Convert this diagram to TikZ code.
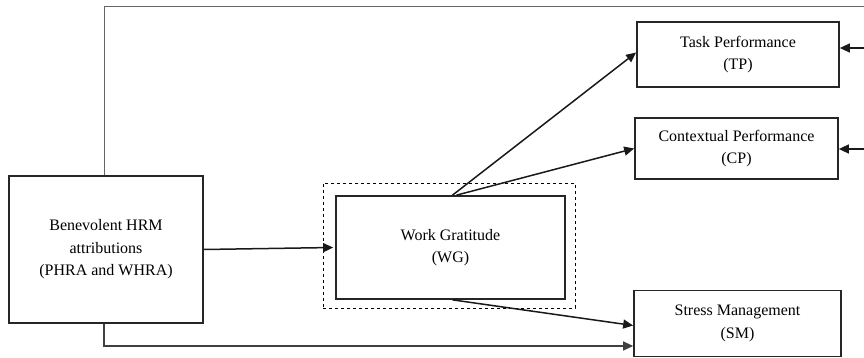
\documentclass[tikz,border=0pt]{standalone}
\usepackage{fontspec}
\setmainfont{Liberation Serif}
\usetikzlibrary{arrows.meta}
\begin{document}
\begin{tikzpicture}[x=1pt,y=-1pt,
  box/.style={draw=black!85,line width=1.7pt,rectangle,align=center,inner sep=0pt,
    font=\fontsize{16}{22.5}\selectfont},
  conn/.style={line width=1.5pt,draw=black!90,-{Triangle[length=10pt,width=9pt]}},
  plain/.style={line width=1pt,draw=black!60}]
\useasboundingbox (0,0) rectangle (864,358);
\node[box,minimum width=194pt,minimum height=147pt] (hrm) at (106,249.5)
  {Benevolent HRM\\attributions\\(PHRA and WHRA)};
\node[draw,dashed,line width=0.9pt,minimum width=252pt,minimum height=125pt,inner sep=0pt] (wgo) at (449,245.5) {};
\node[box,minimum width=229pt,minimum height=103pt] (wg) at (450.5,247.5) {Work Gratitude\\(WG)};
\node[box,minimum width=202pt,minimum height=65pt] (tp) at (738,54.5) {Task Performance\\(TP)};
\node[box,minimum width=203pt,minimum height=61pt] (cp) at (736.5,148.5) {Contextual Performance\\(CP)};
\node[box,minimum width=207pt,minimum height=66pt] (sm) at (737.5,323.5) {Stress Management\\(SM)};
\coordinate (topr) at (864,7);
\coordinate (tpin) at (864,48);
\coordinate (cpin) at (864,149);
\draw[plain] ([xshift=-2pt]hrm.north) |- (topr);
\draw[conn] (tpin) -- (tp.east |- tpin);
\draw[conn] (cpin) -- (cp.east |- cpin);
\draw[conn] (hrm.east) -- ([xshift=-2pt]wg.west);
\draw[conn] ([xshift=2pt]wg.north) -- ([yshift=2pt]tp.west);
\draw[conn] ([xshift=6pt]wg.north) -- (cp.west);
\draw[conn] ([xshift=2pt]wg.south) -- ([yshift=-2pt]sm.west);
\draw[plain,line width=1.2pt,draw=black!75,-{Triangle[length=10pt,width=9pt]}] ([xshift=-2pt]hrm.south) |- (sm.west |- 0,346);
\end{tikzpicture}
\end{document}
